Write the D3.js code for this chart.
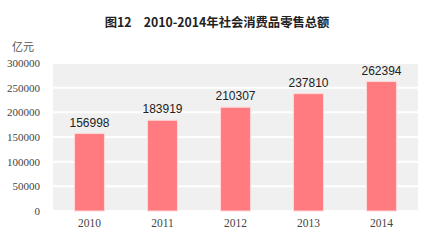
<!DOCTYPE html>
<html><head><meta charset="utf-8">
<script src="https://cdn.jsdelivr.net/npm/d3@7"></script>
<style>html,body{margin:0;padding:0;background:#fff;}</style>
</head><body>
<svg id="c" width="422" height="240"></svg>
<script>
const years = ["2010","2011","2012","2013","2014"];
const values = [156998,183919,210307,237810,262394];
const yTicks = [0,50000,100000,150000,200000,250000,300000];
const title = "图12　2010-2014年社会消费品零售总额";
const unit = "亿元";

const svg = d3.select("#c");
const m = {l:53, r:4, t:63, b:29};
const W = 422, H = 240;
const x = d3.scaleBand().domain(years).range([m.l, W-m.r]).paddingInner(0.59).paddingOuter(0.295);
const y = d3.scaleLinear().domain([0,300000]).range([H-m.b, m.t]);

svg.append("rect").attr("x", m.l).attr("y", m.t).attr("width", W-m.r-m.l).attr("height", H-m.b-m.t).attr("fill","#f0f0f0");

svg.append("g").selectAll("line").data(yTicks).join("line")
  .attr("x1", m.l).attr("x2", W-m.r)
  .attr("y1", d=>y(d)).attr("y2", d=>y(d))
  .attr("stroke","#fff").attr("stroke-width",2);

svg.append("text").attr("x", 217).attr("y", 27).attr("text-anchor","middle")
  .attr("font-family","'Noto Sans CJK SC', sans-serif").attr("font-weight","bold")
  .attr("font-size",12.3).attr("fill","#222").text(title);

svg.append("text").attr("x", 23).attr("y", 51).attr("text-anchor","middle")
  .attr("font-family","'Noto Sans CJK SC', sans-serif").attr("font-size",11).attr("fill","#555").text(unit);

const ya = d3.axisLeft(y).tickValues(yTicks).tickSize(0).tickPadding(0).tickFormat(d=>String(d));
svg.append("g").attr("transform",`translate(${m.l-13},0)`).call(ya)
  .call(g=>g.select(".domain").remove())
  .call(g=>g.selectAll("text").attr("font-family","'Liberation Serif', serif").attr("font-size",11).attr("fill","#444"));

const xa = d3.axisBottom(x).tickSize(0).tickPadding(0);
svg.append("g").attr("transform",`translate(0,${H-m.b+8})`).call(xa)
  .call(g=>g.select(".domain").remove())
  .call(g=>g.selectAll("text").attr("font-family","'Liberation Serif', serif").attr("font-size",11.5).attr("fill","#444"));

svg.append("g").selectAll("rect").data(values).join("rect")
  .attr("x",(d,i)=>x(years[i])).attr("width",x.bandwidth())
  .attr("y",d=>y(d)).attr("height",d=>y(0)-y(d))
  .attr("fill","#ff7b80").attr("stroke","#ffd8da").attr("stroke-width",1);

svg.append("g").selectAll("text").data(values).join("text")
  .attr("x",(d,i)=>x(years[i])+x.bandwidth()/2).attr("y",d=>y(d)-7)
  .attr("text-anchor","middle").attr("font-family","'Liberation Sans', Arial, sans-serif")
  .attr("font-size",12).attr("fill","#222").text(d=>d);
</script>
</body></html>
